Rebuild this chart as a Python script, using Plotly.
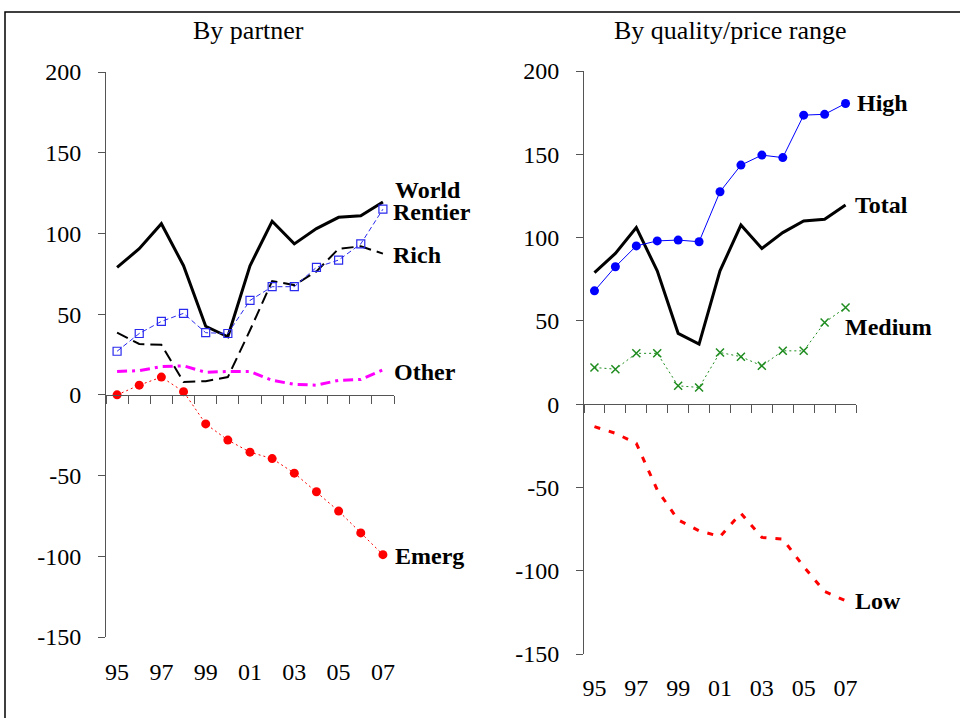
import plotly.graph_objects as go

# Years (two-digit labels), 1995-2007
years = ["95", "96", "97", "98", "99", "00", "01", "02", "03", "04", "05", "06", "07"]
year_ticktext = ["95", "", "97", "", "99", "", "01", "", "03", "", "05", "", "07"]

# Value-axis ticks
y_tickvals = [-150, -100, -50, 0, 50, 100, 150, 200]
y_ticktext = ["-150", "-100", "-50", "0", "50", "100", "150", "200"]

# Left panel: by partner
world = [79, 90.5, 106, 80, 42.5, 36, 80, 107.5, 93.5, 103, 110, 111, 119.5]
rentier = [27, 38, 45.5, 50.5, 38.5, 38, 58.5, 67, 67, 79, 83.5, 93.5, 115]
rich = [38.5, 31.5, 31, 8, 8.5, 11, 40, 70.5, 68, 76.5, 90.5, 92, 87.5]
other = [14.5, 15, 17.5, 18, 14, 14.5, 14.5, 9, 6.5, 6, 9, 9.5, 15.5]
emerg = [0, 6, 11, 2, -18, -28, -35.5, -39.5, -48.5, -60, -72, -85.5, -99]

# Right panel: by quality/price range
high = [68, 82.5, 95, 98, 98.5, 97.5, 127.5, 143.5, 149.5, 148, 173.5, 174, 180.5]
total = world
medium = [22, 21, 30.5, 30.5, 11, 10, 31, 28.5, 23, 32, 32, 49, 58]
low = [-13.5, -17.5, -23.5, -51.5, -69.5, -76, -79.5, -65.5, -80, -81, -97.5, -112.5, -118]

SERIF = "Liberation Serif"
W, H = 960, 718

fig = go.Figure()


def add_line(x_ax, y_ax, values, color, width, dash, marker=None):
    kw = dict(
        x=years, y=values, xaxis=x_ax, yaxis=y_ax,
        mode="lines+markers" if marker else "lines",
        line=dict(color=color, width=width, dash=dash),
        hoverinfo="skip", showlegend=False,
    )
    if marker:
        kw["marker"] = marker
    fig.add_trace(go.Scatter(**kw))


# --- By partner ---
add_line("x", "y", other, "#ff00ff", 3, "10px,5px,3px,5px")
add_line("x", "y", rich, "#000000", 2, "12px,6px")
add_line("x", "y", world, "#000000", 3, "solid")
add_line("x", "y", rentier, "#2a2aee", 1, "5px,3px",
         dict(symbol="square-open", size=8, color="#2a2aee", line=dict(width=1.2)))
add_line("x", "y", emerg, "#ff0000", 1, "2px,3px",
         dict(symbol="circle", size=9, color="#ff0000"))

# --- By quality/price range ---
add_line("x2", "y2", total, "#000000", 3, "solid")
add_line("x2", "y2", high, "#0000ff", 1, "solid",
         dict(symbol="circle", size=9, color="#0000ff"))
add_line("x2", "y2", medium, "#1e8c1e", 1, "2px,3px",
         dict(symbol="x-thin-open", size=8, color="#1e8c1e", line=dict(width=1.5, color="#1e8c1e")))
add_line("x2", "y2", low, "#ff0000", 3, "6px,9px")

axis_color = "#555555"
tick_font = dict(family=SERIF, size=24, color="#000000")


def xaxis_cfg(domain, pos, standoff):
    return dict(
        type="category", categoryorder="array", categoryarray=years,
        domain=domain, anchor="free", position=pos, range=[-0.5, 12.5],
        tickmode="array", tickvals=years, ticktext=year_ticktext, tickangle=0,
        tickson="boundaries", ticks="outside", ticklen=8, tickwidth=1,
        tickcolor=axis_color, showline=True, linecolor=axis_color, linewidth=1,
        showgrid=False, zeroline=False, tickfont=tick_font,
        ticklabelstandoff=standoff, automargin=False,
    )


def yaxis_cfg(domain, anchor):
    return dict(
        domain=domain, anchor=anchor, range=[-150, 200],
        tickmode="array", tickvals=y_tickvals, ticktext=y_ticktext,
        ticks="outside", ticklen=7, tickwidth=1, tickcolor=axis_color,
        showline=True, linecolor=axis_color, linewidth=1,
        showgrid=False, zeroline=False, tickfont=tick_font,
        ticklabelstandoff=12, automargin=False,
    )


fig.update_layout(
    width=W, height=H,
    margin=dict(l=0, r=0, t=0, b=0, autoexpand=False),
    paper_bgcolor="white", plot_bgcolor="white",
    font=dict(family=SERIF, color="#000000"),
    xaxis=xaxis_cfg([106 / W, 394 / W], 1 - 395 / H, 255),
    yaxis=yaxis_cfg([1 - 637 / H, 1 - 72 / H], "x"),
    xaxis2=xaxis_cfg([584 / W, 856 / W], 1 - 404 / H, 262),
    yaxis2=yaxis_cfg([1 - 654 / H, 1 - 71 / H], "x2"),
)

# Outer frame
fig.add_shape(type="rect", xref="paper", yref="paper",
              x0=5 / W, x1=1.02, y0=-0.02, y1=1 - 12 / H,
              line=dict(color="#000000", width=1.5), fillcolor="rgba(0,0,0,0)")

# Panel titles
title_font = dict(family=SERIF, size=26, color="#000000")
fig.add_annotation(text="By partner", xref="paper", yref="paper",
                   x=248 / W, y=1 - 30 / H, showarrow=False, font=title_font,
                   xanchor="center", yanchor="middle")
fig.add_annotation(text="By quality/price range", xref="paper", yref="paper",
                   x=730 / W, y=1 - 30 / H, showarrow=False, font=title_font,
                   xanchor="center", yanchor="middle")

# Series names at the line ends (x given as the last category's index)
last_idx = len(years) - 1
label_font = dict(family=SERIF, size=24, color="#000000")
end_labels = [
    ("x", "y", "World", world[-1], 10, 12),
    ("x", "y", "Rentier", rentier[-1], 8, -3),
    ("x", "y", "Rich", rich[-1], 8, -1),
    ("x", "y", "Other", other[-1], 9, -2),
    ("x", "y", "Emerg", emerg[-1], 10, -1),
    ("x2", "y2", "High", high[-1], 9, 0),
    ("x2", "y2", "Total", total[-1], 7, 0),
    ("x2", "y2", "Medium", medium[-1], -3, -19),
    ("x2", "y2", "Low", low[-1], 7, 0),
]
for xa, ya, name, yv, dx, dy in end_labels:
    fig.add_annotation(text=f"<b>{name}</b>", xref=xa, yref=ya,
                       x=last_idx, y=yv, xshift=dx, yshift=dy,
                       showarrow=False, font=label_font,
                       xanchor="left", yanchor="middle")

fig.write_html("out.html")
